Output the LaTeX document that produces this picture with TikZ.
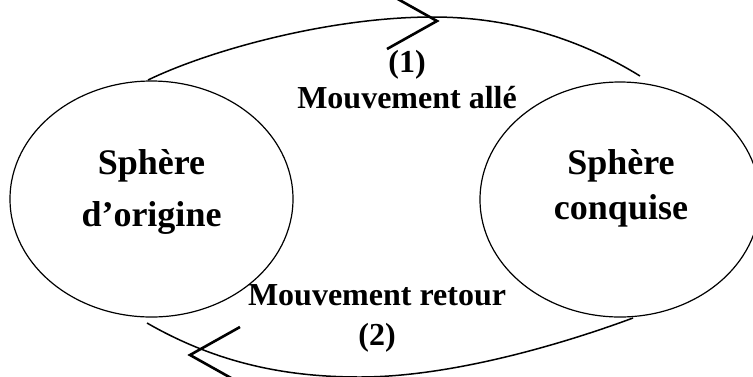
\documentclass[tikz,border=0pt]{standalone}
\usepackage{fontspec}
\setmainfont{Liberation Serif}
\usetikzlibrary{shapes.geometric}
\begin{document}
\begin{tikzpicture}[x=1pt,y=-1pt,
  sphere/.style={draw, ellipse, line width=1.2pt, inner sep=0pt},
  bigtxt/.style={font=\fontsize{36}{40}\selectfont\bfseries, anchor=base, inner sep=0pt},
  lbl/.style={font=\fontsize{32}{36}\selectfont\bfseries, anchor=base, inner sep=0pt},
  flow/.style={line width=1.5pt},
  chev/.style={line width=2.6pt, line join=miter}]
\useasboundingbox (0,0) rectangle (753,376);
\node[sphere, minimum width=283pt, minimum height=236pt] (L) at (151.5,199) {};
\node[sphere, minimum width=280pt, minimum height=235pt] (R) at (620,199.5) {};
\node[bigtxt] (l1) at (151.5,174) {Sphère};
\node[bigtxt] (l2) at (151.5,226) {d’origine};
\node[bigtxt] (r1) at (621,174) {Sphère};
\node[bigtxt] (r2) at (621,219) {conquise};
\node[lbl] (n1) at (407,72) {(1)};
\node[lbl] (m1) at (407,108) {Mouvement allé};
\node[lbl] (m2) at (377,305) {Mouvement retour};
\node[lbl] (n2) at (377,345) {(2)};
% top arc (aller)
\coordinate (a1) at (148,80);
\coordinate (a2) at (433,17);
\coordinate (a3) at (640,76);
\draw[flow] (a1) .. controls (210,50) and (330,17) .. (a2) .. controls (520,17) and (590,45) .. (a3);
% bottom arc (retour)
\coordinate (b1) at (147,323);
\coordinate (b2) at (360,377);
\coordinate (b3) at (633,318);
\draw[flow] (b1) .. controls (220,365) and (290,377) .. (b2) .. controls (450,377) and (560,345) .. (b3);
% chevrons
\coordinate (t1) at (437,21);
\coordinate (t1u) at (387,-7);
\coordinate (t1d) at (387,49);
\draw[chev] (t1u) -- (t1) -- (t1d);
\coordinate (t2) at (190,355);
\coordinate (t2u) at (240,327);
\coordinate (t2d) at (240,383);
\draw[chev] (t2u) -- (t2) -- (t2d);
\end{tikzpicture}
\end{document}
